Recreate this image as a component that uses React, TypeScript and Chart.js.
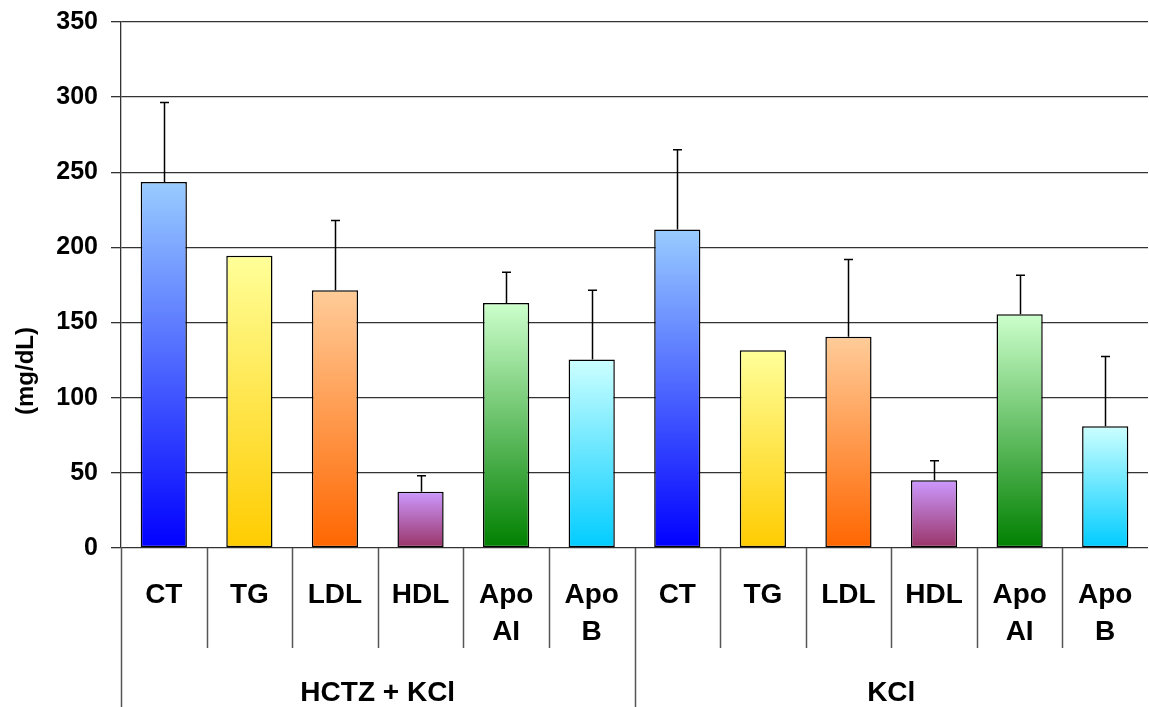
import React, { useEffect, useRef } from "react";
import { Chart, registerables } from "chart.js";

Chart.register(...registerables);

// Lipid profile by treatment group (mg/dL)
const categories: string[][] = [
  ["CT"], ["TG"], ["LDL"], ["HDL"], ["Apo", "AI"], ["Apo", "B"],
  ["CT"], ["TG"], ["LDL"], ["HDL"], ["Apo", "AI"], ["Apo", "B"],
];
const groups = ["HCTZ + KCl", "KCl"];
const meanValues = [243.5, 194.5, 171.5, 37.5, 163, 125.5, 212, 131.5, 140.5, 45, 155.5, 81];
const sdValues: (number | null)[] = [53, null, 46.5, 10.5, 20.5, 46, 53, null, 51.5, 13, 26, 46.5];
const yTicks = [0, 50, 100, 150, 200, 250, 300, 350];

// gradient stops per parameter: [top colour, bottom colour]
const gradientStops: [string, string][] = [
  ["#99CCFF", "#0000FF"],
  ["#FFFF99", "#FFCC00"],
  ["#FFCC99", "#FF6600"],
  ["#CC99FF", "#993366"],
  ["#CCFFCC", "#008000"],
  ["#CCFFFF", "#00CCFF"],
];

const FONT = "'Liberation Sans', Arial, sans-serif";

const decorPlugin = {
  id: "decor",
  afterDatasetsDraw(chart: any) {
    const { ctx, chartArea, scales } = chart;
    const x = scales.x;
    const y = scales.y;
    const n = categories.length;
    const band = (chartArea.right - chartArea.left) / n;
    ctx.save();

    // error bars (upper whisker with cap)
    ctx.strokeStyle = "#000";
    ctx.lineWidth = 1.5;
    meanValues.forEach((v, i) => {
      const sd = sdValues[i];
      if (sd == null) return;
      const cx = Math.round(x.getPixelForValue(i)) + 0.5;
      const y0 = y.getPixelForValue(v);
      const y1 = y.getPixelForValue(v + sd);
      ctx.beginPath();
      ctx.moveTo(cx, y0);
      ctx.lineTo(cx, y1);
      ctx.moveTo(cx - 4.5, y1);
      ctx.lineTo(cx + 4.5, y1);
      ctx.stroke();
    });

    // category separators below the axis
    const bottom = chartArea.bottom;
    ctx.strokeStyle = "#555";
    ctx.lineWidth = 1.5;
    for (let i = 0; i < n; i++) {
      const sx = Math.round(chartArea.left + band * i) + 0.5;
      const isGroupEdge = i % 6 === 0;
      ctx.beginPath();
      ctx.moveTo(sx, bottom);
      ctx.lineTo(sx, isGroupEdge ? chart.height : bottom + 100);
      ctx.stroke();
    }

    // category labels
    ctx.fillStyle = "#000";
    ctx.font = `bold 28px ${FONT}`;
    ctx.textAlign = "center";
    ctx.textBaseline = "alphabetic";
    categories.forEach((lines, i) => {
      const cx = x.getPixelForValue(i);
      lines.forEach((t, j) => {
        ctx.fillText(t, cx, bottom + 55 + j * 37);
      });
    });

    // group labels
    groups.forEach((g, gi) => {
      const cx = chartArea.left + band * (gi * 6 + 3);
      ctx.fillText(g, cx, bottom + 153);
    });

    // y axis title
    ctx.save();
    ctx.translate(26, 371);
    ctx.rotate(-Math.PI / 2);
    ctx.font = `bold 24px ${FONT}`;
    ctx.textBaseline = "middle";
    ctx.fillText("(mg/dL)", 0, 0);
    ctx.restore();

    ctx.restore();
  },
};

export default function App() {
  const canvasRef = useRef<HTMLCanvasElement | null>(null);

  useEffect(() => {
    document.body.style.margin = "0";
    const canvas = canvasRef.current;
    if (!canvas) return;

    const chart = new Chart(canvas, {
      type: "bar",
      data: {
        labels: categories.map((c) => c.join(" ")),
        datasets: [
          {
            data: meanValues,
            backgroundColor: (context: any) => {
              const c = context.chart;
              const stops = gradientStops[context.dataIndex % 6];
              const ys = c.scales?.y;
              if (!ys || !c.chartArea) return stops[1];
              const top = ys.getPixelForValue(meanValues[context.dataIndex]);
              const base = ys.getPixelForValue(0);
              const g = c.ctx.createLinearGradient(0, top, 0, base);
              g.addColorStop(0, stops[0]);
              g.addColorStop(1, stops[1]);
              return g;
            },
            borderColor: "#000",
            borderWidth: 1.5,
            borderSkipped: false,
            barPercentage: 0.54,
            categoryPercentage: 1,
          },
        ],
      },
      options: {
        responsive: false,
        animation: false,
        layout: { padding: { top: 22, bottom: 159, left: 0, right: 1 } },
        plugins: {
          legend: { display: false },
          tooltip: { enabled: false },
        },
        scales: {
          x: { display: false, offset: true },
          y: {
            min: 0,
            max: 350,
            afterFit: (scale: any) => {
              scale.width = 121;
              scale.paddingTop = 0;
              scale.paddingBottom = 0;
            },
            afterBuildTicks: (scale: any) => {
              scale.ticks = yTicks.map((v) => ({ value: v }));
            },
            grid: {
              color: "#333",
              lineWidth: 1.3,
              drawTicks: true,
              tickLength: 10,
            },
            border: { display: true, color: "#333", width: 1.3 },
            ticks: {
              padding: 13,
              color: "#000",
              font: { family: FONT, size: 25, weight: "bold" },
            },
          },
        },
      },
      plugins: [decorPlugin],
    } as any);

    return () => chart.destroy();
  }, []);

  return (
    <div style={{ width: 1149, height: 707 }}>
      <canvas ref={canvasRef} width={1149} height={707} />
    </div>
  );
}
